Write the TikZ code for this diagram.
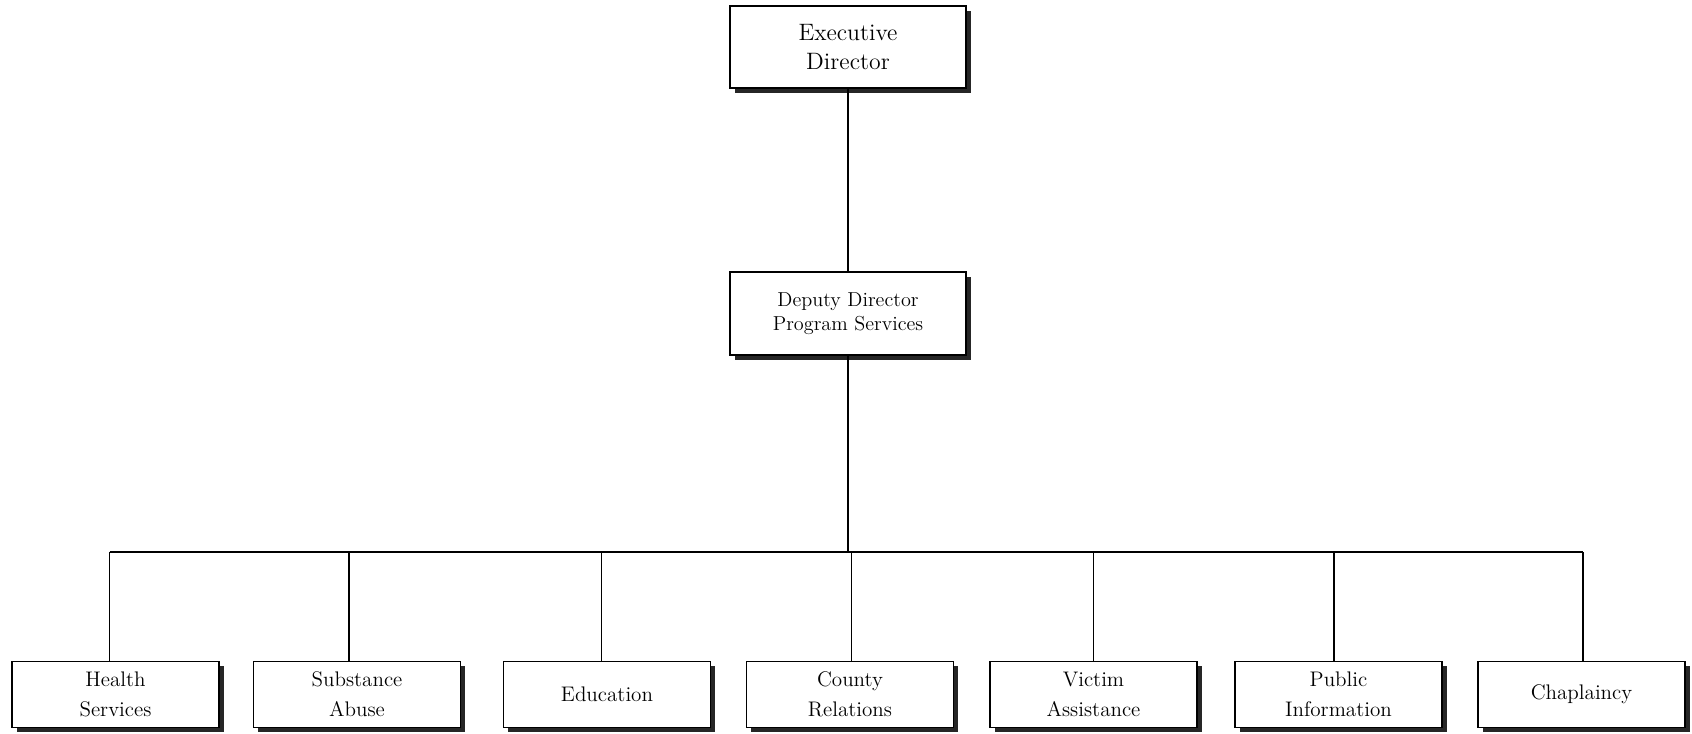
\documentclass[tikz,border=0pt]{standalone}
\usepackage{tikz}
\usepackage{xcolor}
\usetikzlibrary{shadows}

\tikzset{
  unitbox/.style={draw,line width=0.9pt,fill=white,align=center,inner sep=2pt,
    minimum width=4.14cm,minimum height=1.32cm,font=\fontsize{12}{17}\selectfont,
    drop shadow={shadow xshift=2.6pt,shadow yshift=-2.6pt,opacity=1,fill=black!85}},
  headbox/.style={unitbox,minimum width=4.72cm,minimum height=1.64cm},
  link/.style={line width=0.8pt}
}

\begin{document}
\begin{tikzpicture}[x=0.02cm,y=-0.02cm]
\useasboundingbox (0,0) rectangle (1692,733);
\node[headbox,font=\fontsize{13.5}{16}\selectfont] (ed) at (848,47) {Executive\\Director};
\node[headbox,minimum height=1.66cm,font=\fontsize{11.5}{13.8}\selectfont] (dd) at (848,313.5) {Deputy Director\\Program Services};
\node[unitbox] (hs) at (115.5,694.5) {Health\\Services};
\node[unitbox] (sa) at (357,694.5) {Substance\\Abuse};
\node[unitbox] (edu) at (607,694.5) {Education};
\node[unitbox] (cr) at (850,694.5) {County\\Relations};
\node[unitbox] (va) at (1093.5,694.5) {Victim\\Assistance};
\node[unitbox] (pi) at (1338.5,694.5) {Public\\Information};
\node[unitbox] (ch) at (1581.5,694.5) {Chaplaincy};
\coordinate (bus) at (850,552);
\draw[link] (ed.south) -- (dd.north);
\draw[link] (dd.south) -- (dd.south |- bus);
\draw[link] ([xshift=-0.12cm]hs.north |- bus) -- ([xshift=0.03cm]ch.north |- bus);
% drops sit a little off the box centres
\foreach \u/\dx in {hs/-0.12,sa/-0.16,edu/-0.11,cr/0.03,va/0,pi/-0.09,ch/0.03}
  \draw[link] ([xshift=\dx cm]\u.north) -- ([xshift=\dx cm]\u.north |- bus);
\end{tikzpicture}
\end{document}
